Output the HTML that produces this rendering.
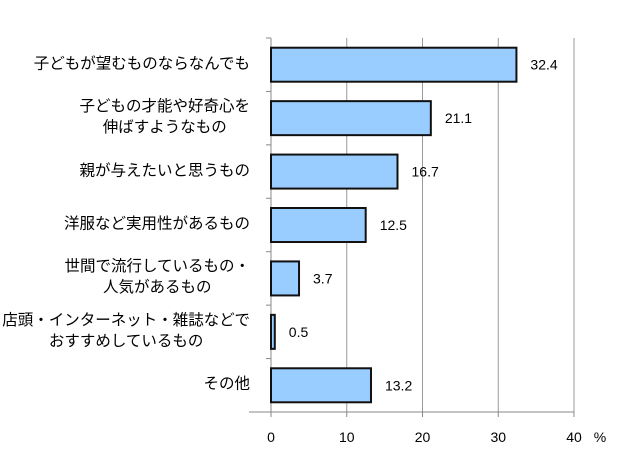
<!DOCTYPE html>
<html><head><meta charset="utf-8"><style>
body{margin:0;background:#fff;width:640px;height:456px;overflow:hidden;position:relative;font-family:"Liberation Sans","Noto Sans CJK JP",sans-serif}
.lab{position:absolute;right:390px;text-align:center;white-space:nowrap;font-size:15.5px;line-height:21px;color:#000;transform:translateY(-50%)}
</style></head><body>
<svg id="c" width="640" height="456" style="position:absolute;left:0;top:0"></svg>
<div id="labels"></div>
<script>
const categories=["子どもが望むものならなんでも","子どもの才能や好奇心を<br>伸ばすようなもの","親が与えたいと思うもの","洋服など実用性があるもの","世間で流行しているもの・<br>人気があるもの","店頭・インターネット・雑誌などで<br>おすすめしているもの","その他"];
const values=[32.4,21.1,16.7,12.5,3.7,0.5,13.2];
const valueLabels=["32.4","21.1","16.7","12.5","3.7","0.5","13.2"];
const ticks=[0,10,20,30,40];
const ns="http://www.w3.org/2000/svg";
const svg=document.getElementById('c');
const X0=271,PX=(574-271)/40,TOP=38,BOT=412,BAND=(BOT-TOP)/categories.length,BH=34;
const x=v=>X0+v*PX;
const yc=i=>TOP+BAND*(i+0.5);
function mk(t,a){const e=document.createElementNS(ns,t);for(const k in a)e.setAttribute(k,a[k]);svg.appendChild(e);return e;}
ticks.forEach(t=>{
 if(t>0){const g=mk('line',{x1:x(t),x2:x(t),y1:TOP,y2:BOT,stroke:'#999','stroke-width':1});
 
 }
 const tk=mk('line',{x1:x(t),x2:x(t),y1:BOT,y2:BOT+5,stroke:'#888'});
 
 
 const tl=mk('text',{x:x(t),y:442,'text-anchor':'middle','font-size':14,fill:'#000'});
 tl.textContent=t;
 
 
});
const pct=mk('text',{x:600,y:442,'text-anchor':'middle','font-size':14,fill:'#000'});pct.textContent='%';


for(let i=0;i<=categories.length;i++){const t=mk('line',{x1:X0-5,x2:X0,y1:TOP+BAND*i,y2:TOP+BAND*i,stroke:'#888'});

}
const ax=mk('line',{x1:X0,x2:X0,y1:TOP,y2:BOT,stroke:'#888'});


const bx=mk('line',{x1:X0-22,x2:x(40),y1:BOT,y2:BOT,stroke:'#888'});


const L=document.getElementById('labels');
values.forEach((v,i)=>{
 const r=mk('rect',{x:X0,y:yc(i)-BH/2,width:Math.max(v*PX,2),height:BH,fill:'#99ccff',stroke:'#111','stroke-width':2});
 
 
 const t=mk('text',{x:x(v)+14,y:yc(i)+5,'font-size':14,fill:'#000'});
 t.textContent=valueLabels[i];
 
 
 const d=document.createElement('div');d.className='lab';d.style.top=(yc(i)-1)+'px';d.innerHTML=categories[i];
 
 
 L.appendChild(d);
});
</script>
</body></html>
